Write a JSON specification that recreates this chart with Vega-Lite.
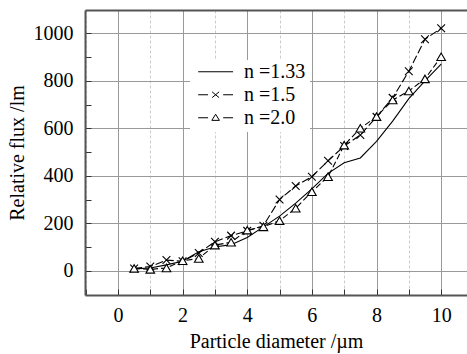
{
  "$schema": "https://vega.github.io/schema/vega-lite/v6.json",
  "width": 382,
  "height": 285,
  "autosize": {"type": "none"},
  "padding": {"left": 85, "top": 10, "right": 0, "bottom": 59},
  "background": "white",
  "config": {
    "view": {"stroke": null},
    "font": "Liberation Serif, Times New Roman, serif",
    "axis": {
      "labelFont": "Liberation Serif, Times New Roman, serif",
      "titleFont": "Liberation Serif, Times New Roman, serif",
      "labelFontSize": 20,
      "titleFontSize": 20,
      "titleFontWeight": "normal",
      "labelColor": "black",
      "titleColor": "black",
      "domainColor": "#555555",
      "domainWidth": 2,
      "tickColor": "#333333",
      "tickWidth": 1
    },
    "legend": {"labelFont": "Liberation Serif, Times New Roman, serif", "labelFontSize": 20, "labelColor": "black"}
  },
  "data": {
    "values": [
      {"d": 0.5, "flux": 8, "n": "1.33"}, {"d": 1, "flux": 12, "n": "1.33"}, {"d": 1.5, "flux": 25, "n": "1.33"}, {"d": 2, "flux": 40, "n": "1.33"}, {"d": 2.5, "flux": 80, "n": "1.33"}, {"d": 3, "flux": 100, "n": "1.33"}, {"d": 3.5, "flux": 110, "n": "1.33"}, {"d": 4, "flux": 140, "n": "1.33"}, {"d": 4.5, "flux": 185, "n": "1.33"}, {"d": 5, "flux": 230, "n": "1.33"}, {"d": 5.5, "flux": 285, "n": "1.33"}, {"d": 6, "flux": 345, "n": "1.33"}, {"d": 6.5, "flux": 410, "n": "1.33"}, {"d": 7, "flux": 455, "n": "1.33"}, {"d": 7.5, "flux": 475, "n": "1.33"}, {"d": 8, "flux": 545, "n": "1.33"}, {"d": 8.5, "flux": 630, "n": "1.33"}, {"d": 9, "flux": 725, "n": "1.33"}, {"d": 9.5, "flux": 800, "n": "1.33"}, {"d": 10, "flux": 870, "n": "1.33"},
      {"d": 0.5, "flux": 10, "n": "1.5"}, {"d": 1, "flux": 18, "n": "1.5"}, {"d": 1.5, "flux": 45, "n": "1.5"}, {"d": 2, "flux": 40, "n": "1.5"}, {"d": 2.5, "flux": 75, "n": "1.5"}, {"d": 3, "flux": 122, "n": "1.5"}, {"d": 3.5, "flux": 148, "n": "1.5"}, {"d": 4, "flux": 168, "n": "1.5"}, {"d": 4.5, "flux": 190, "n": "1.5"}, {"d": 5, "flux": 300, "n": "1.5"}, {"d": 5.5, "flux": 357, "n": "1.5"}, {"d": 6, "flux": 396, "n": "1.5"}, {"d": 6.5, "flux": 463, "n": "1.5"}, {"d": 7, "flux": 525, "n": "1.5"}, {"d": 7.5, "flux": 572, "n": "1.5"}, {"d": 8, "flux": 648, "n": "1.5"}, {"d": 8.5, "flux": 728, "n": "1.5"}, {"d": 9, "flux": 840, "n": "1.5"}, {"d": 9.5, "flux": 975, "n": "1.5"}, {"d": 10, "flux": 1021, "n": "1.5"},
      {"d": 0.5, "flux": 10, "n": "2.0"}, {"d": 1, "flux": 6, "n": "2.0"}, {"d": 1.5, "flux": 12, "n": "2.0"}, {"d": 2, "flux": 42, "n": "2.0"}, {"d": 2.5, "flux": 52, "n": "2.0"}, {"d": 3, "flux": 108, "n": "2.0"}, {"d": 3.5, "flux": 120, "n": "2.0"}, {"d": 4, "flux": 171, "n": "2.0"}, {"d": 4.5, "flux": 185, "n": "2.0"}, {"d": 5, "flux": 211, "n": "2.0"}, {"d": 5.5, "flux": 263, "n": "2.0"}, {"d": 6, "flux": 333, "n": "2.0"}, {"d": 6.5, "flux": 396, "n": "2.0"}, {"d": 7, "flux": 529, "n": "2.0"}, {"d": 7.5, "flux": 600, "n": "2.0"}, {"d": 8, "flux": 649, "n": "2.0"}, {"d": 8.5, "flux": 719, "n": "2.0"}, {"d": 9, "flux": 757, "n": "2.0"}, {"d": 9.5, "flux": 808, "n": "2.0"}, {"d": 10, "flux": 901, "n": "2.0"}
    ]
  },
  "resolve": {"axis": {"x": "independent", "y": "independent"}},
  "layer": [
    {
      "transform": [{"filter": "datum.n == '1.33'"}],
      "mark": {"type": "line", "strokeWidth": 1.1},
      "encoding": {
        "x": {
          "field": "d", "type": "quantitative",
          "scale": {"domain": [-1.02, 10.8], "nice": false, "zero": false},
          "axis": {
            "title": "Particle diameter /µm",
            "values": [-1, 0, 1, 2, 3, 4, 5, 6, 7, 8, 9, 10],
            "labelExpr": "datum.value % 2 == 0 && datum.value >= 0 ? datum.label : ''",
            "tickSize": -6,
            "labelPadding": 16,
            "titlePadding": 6,
            "grid": true,
            "gridColor": {"condition": {"test": "datum.value % 2 != 0", "value": "#cccccc"}, "value": "#999999"},
            "gridDash": {"condition": {"test": "datum.value % 2 != 0", "value": [3, 2]}, "value": []}
          }
        },
        "y": {
          "field": "flux", "type": "quantitative",
          "scale": {"domain": [-102, 1098], "nice": false, "zero": false},
          "axis": {
            "title": "Relative flux /lm",
            "values": [0, 100, 200, 300, 400, 500, 600, 700, 800, 900, 1000],
            "labelExpr": "datum.value % 200 == 0 ? datum.label : ''",
            "format": "d",
            "tickSize": -6,
            "labelPadding": 18,
            "titlePadding": 6,
            "grid": true,
            "gridColor": "#999999",
            "gridOpacity": {"condition": {"test": "datum.value % 200 != 0", "value": 0}, "value": 1}
          }
        },
        "color": {
          "field": "n", "type": "nominal",
          "scale": {"domain": ["1.33", "1.5", "2.0"], "range": ["black", "black", "black"]},
          "legend": {
            "title": null,
            "orient": "none",
            "legendX": 105,
            "legendY": 50,
            "fillColor": "white",
            "padding": 4,
            "symbolSize": 135,
            "symbolStrokeWidth": 1,
            "labelOffset": 30,
            "clipHeight": 15.5,
            "rowPadding": 2,
            "labelExpr": "'n =' + datum.label",
            "encode": {
              "symbols": {
                "update": {
                  "shape": {"signal": "datum.value == '1.33' ? 'M-1,0H5' : datum.value == '1.5' ? 'M-1,0H0.7M3.3,0H5M1.4,-0.5L2.6,0.5M1.4,0.5L2.6,-0.5' : 'M-1,0H0.7M3.3,0H5M2,-0.6L2.65,0.45H1.35Z'"},
                  "stroke": {"value": "black"},
                  "fill": {"value": "transparent"}
                }
              }
            }
          }
        }
      }
    },
    {
      "transform": [{"filter": "datum.n == '1.5'"}],
      "mark": {"type": "line", "color": "black", "strokeWidth": 1.1, "strokeDash": [8, 3]},
      "encoding": {
        "x": {"field": "d", "type": "quantitative", "axis": null},
        "y": {"field": "flux", "type": "quantitative", "axis": null}
      }
    },
    {
      "transform": [{"filter": "datum.n == '2.0'"}],
      "mark": {"type": "line", "color": "black", "strokeWidth": 1.1, "strokeDash": [6, 3]},
      "encoding": {
        "x": {"field": "d", "type": "quantitative", "axis": null},
        "y": {"field": "flux", "type": "quantitative", "axis": null}
      }
    },
    {
      "transform": [{"filter": "datum.n == '1.5'"}],
      "mark": {"type": "point", "shape": "M-1,-1L1,1M-1,1L1,-1", "filled": false, "stroke": "black", "strokeWidth": 1.1, "size": 60, "opacity": 1},
      "encoding": {
        "x": {"field": "d", "type": "quantitative", "axis": null},
        "y": {"field": "flux", "type": "quantitative", "axis": null}
      }
    },
    {
      "transform": [{"filter": "datum.n == '2.0'"}],
      "mark": {"type": "point", "shape": "triangle-up", "filled": true, "fill": "white", "stroke": "black", "strokeWidth": 1.1, "size": 75, "opacity": 1},
      "encoding": {
        "x": {"field": "d", "type": "quantitative", "axis": {"orient": "top", "labels": false, "ticks": false, "grid": false, "title": null, "domain": true}},
        "y": {"field": "flux", "type": "quantitative", "axis": null}
      }
    }
  ]
}
